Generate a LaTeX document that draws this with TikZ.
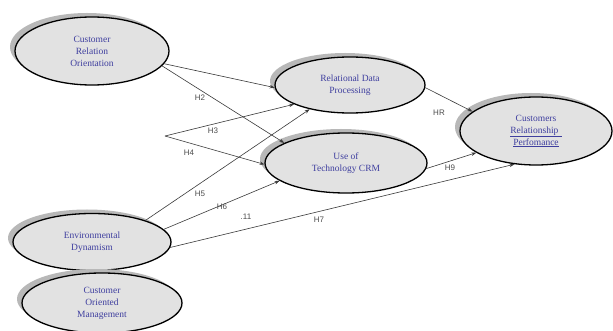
\documentclass[tikz,border=0pt]{standalone}
\usepackage{fontspec}
\setmainfont{Liberation Serif}
\newfontfamily\labfont{Liberation Sans}
\usetikzlibrary{shapes.geometric,arrows.meta,shadows}
\definecolor{txtblue}{HTML}{3F3F9F}
\definecolor{ellfill}{HTML}{E2E2E2}
\definecolor{shadowgray}{HTML}{B8B8B8}
\definecolor{arrgray}{HTML}{3A3A3A}
\tikzset{
  construct/.style={ellipse, draw=black, line width=1.3pt, fill=ellfill, inner sep=0pt,
    align=center, text=txtblue, font=\fontsize{9.5}{12}\selectfont,
    drop shadow={shadow xshift=-5pt, shadow yshift=4pt, fill=shadowgray, opacity=1}},
  link/.style={draw=arrgray, line width=0.6pt, -{Stealth[length=5pt,width=3.5pt]}},
  hlab/.style={font=\labfont\fontsize{8}{9}\selectfont, text=black!70, inner sep=1pt}
}
\begin{document}
\begin{tikzpicture}[x=1pt,y=-1pt]
\useasboundingbox (0,0) rectangle (613,331);
\fill[white] (0,0) rectangle (613,331);
\node[construct, minimum width=154pt, minimum height=68pt] (cro) at (92,51) {Customer\\Relation\\Orientation};
\node[construct, minimum width=150pt, minimum height=56pt] (rdp) at (350,85) {Relational Data\\Processing};
\node[construct, minimum width=162pt, minimum height=60pt] (uot) at (346,163) {Use of\\Technology CRM};
\node[construct, minimum width=152pt, minimum height=68pt] (crp) at (536,131) {Customers\\\underline{Relationship\,\,}\\\underline{Perfomance}};
\node[construct, minimum width=158pt, minimum height=57pt] (ed) at (92,242) {Environmental\\Dynamism};
\node[construct, minimum width=160pt, minimum height=60pt] (com) at (102,303) {Customer\\Oriented\\Management};
\coordinate (src) at (165,136);
\draw[link] (cro.-10) -- (rdp.182);
\draw[link] (cro.-12) -- (uot.162);
\draw[link] (src) -- (rdp.199);
\draw[link] (src) -- (uot.181);
\draw[link] (ed.22) -- (rdp.211);
\draw[link] (ed.10) -- (uot.195);
\draw[link] (ed.-4) -- (crp.237);
\draw[link] (rdp.-2) -- (crp.163);
\draw[link] (uot.-4) -- (crp.200);
\node[hlab] (l2) at (200,98) {H2};
\node[hlab] (l3) at (213,131) {H3};
\node[hlab] (l4) at (189,153) {H4};
\node[hlab] (l5) at (200,194) {H5};
\node[hlab] (l6) at (222,207) {H6};
\node[hlab] (l11) at (246,217) {.11};
\node[hlab] (l7) at (319,220) {H7};
\node[hlab] (l8) at (439,113) {HR};
\node[hlab] (l9) at (450,168) {H9};
\end{tikzpicture}
\end{document}
